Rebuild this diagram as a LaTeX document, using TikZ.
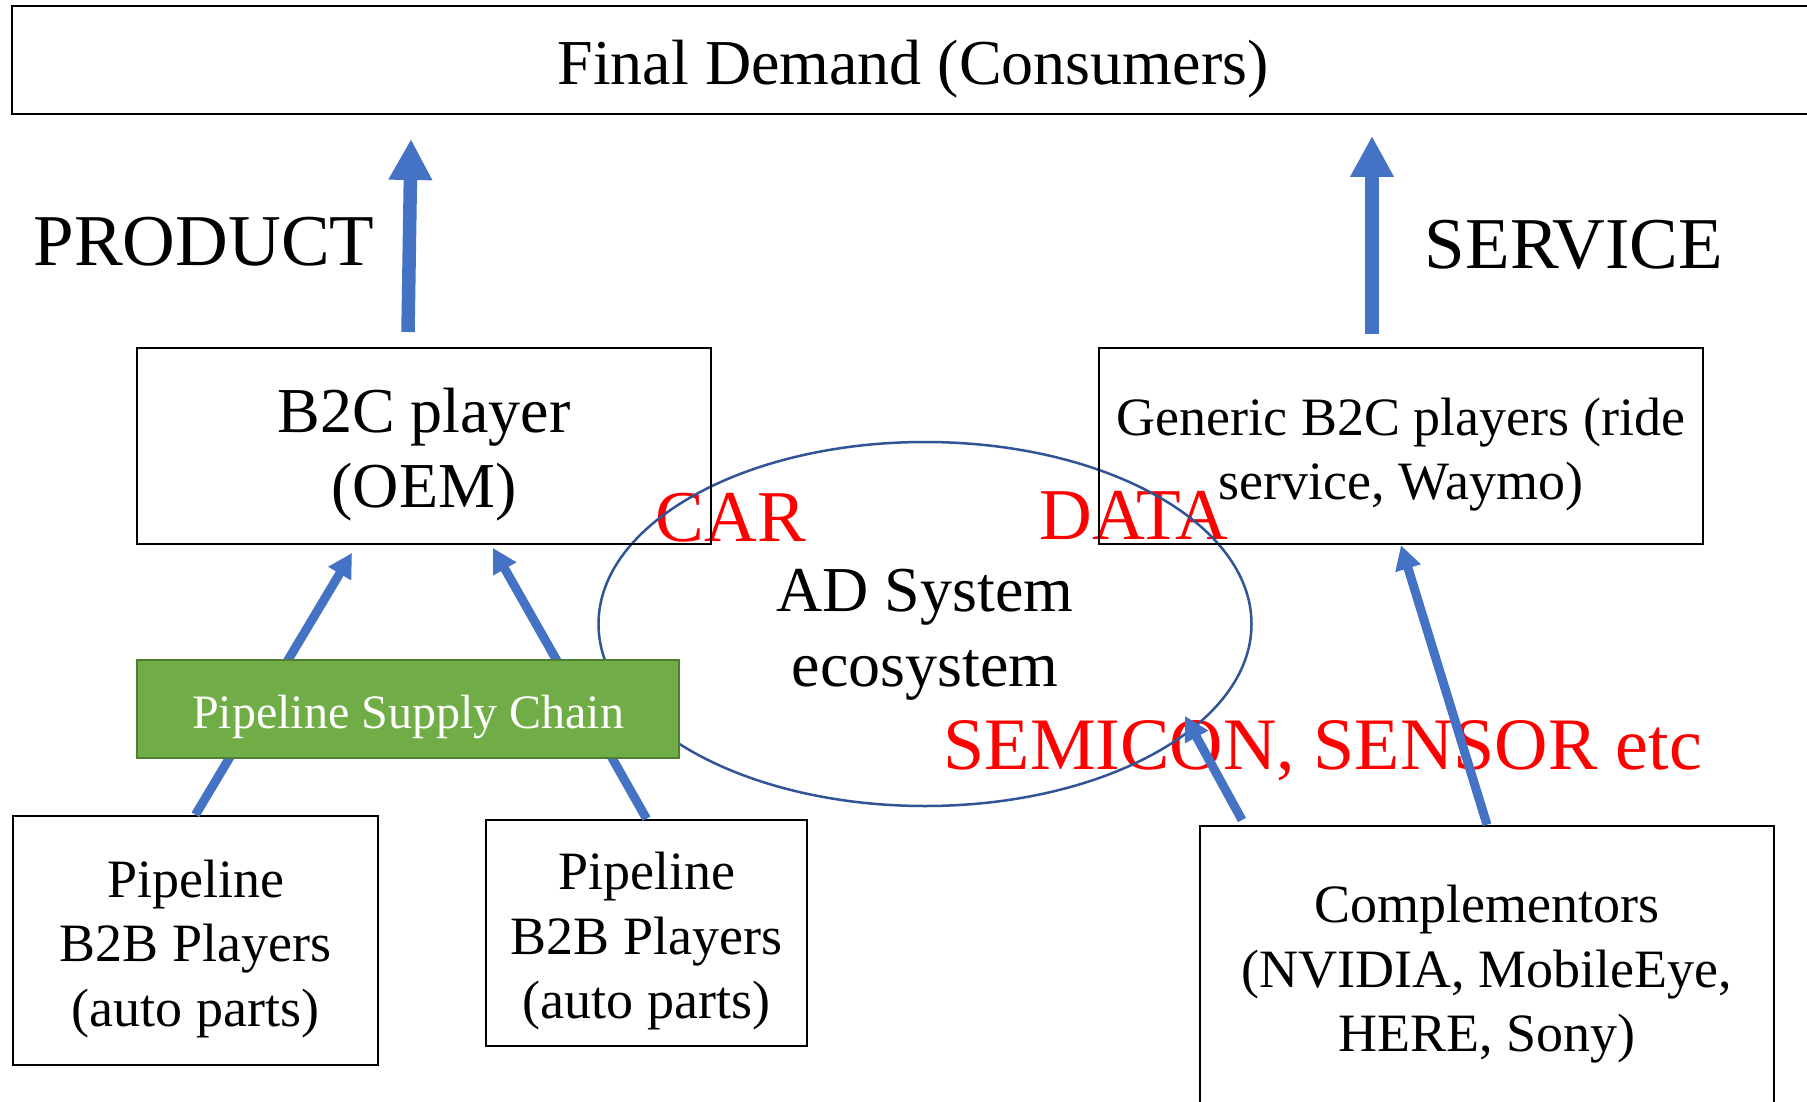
\documentclass[tikz,border=0pt]{standalone}
\usepackage{fontspec}
\setmainfont{Liberation Serif}
\usetikzlibrary{arrows.meta,shapes.geometric}
\definecolor{arrowblue}{HTML}{4472C4}
\definecolor{ringblue}{HTML}{2F5597}
\definecolor{chaingreen}{HTML}{70AD47}
\definecolor{chainedge}{HTML}{507E32}
\definecolor{tagred}{HTML}{FF0000}

\begin{document}
\begin{tikzpicture}[x=1pt,y=-1pt,
  box/.style={draw=black, line width=2.6pt, inner sep=0pt},
  bigtext/.style={inner sep=0pt, align=center, yshift=-9pt, font=\fontsize{64}{75}\selectfont},
  midtext/.style={inner sep=0pt, align=center, yshift=-8.5pt, font=\fontsize{54}{64.5}\selectfont},
  heading/.style={inner sep=0pt, font=\fontsize{73}{80}\selectfont},
  tag/.style={heading, text=tagred},
  flow/.style={draw=arrowblue, line width=13.5pt, -{Triangle[width=41pt,length=41pt]}},
  feed/.style={draw=arrowblue, line width=9pt, -{Triangle[width=25pt,length=24pt]}}]

\useasboundingbox (0,0) rectangle (1807,1102);
\fill[white] (0,0) rectangle (1807,1102);

% side headings and red tags
\node[heading] (product) at (204,242) {PRODUCT};
\node[heading] (service) at (1574,245) {SERVICE};
\node[tag] (car) at (731,518) {CAR};
\node[tag] (data) at (1134,515) {DATA};
\node[tag, font=\fontsize{74}{80}\selectfont] (semi) at (1323,751) {SEMICON, SENSOR etc};

% the ecosystem ring
\node[ellipse, draw=ringblue, line width=2.5pt, inner sep=0pt,
      minimum width=653pt, minimum height=364pt,
      label={[bigtext, yshift=-2pt]center:{AD System\\ecosystem}}]
  (ad) at (925,624) {};

% boxes
\node[box, minimum width=1802pt, minimum height=108pt,
      label={[bigtext]center:{Final Demand (Consumers)}}]
  (demand) at (913,60) {};
\node[box, minimum width=574pt, minimum height=196pt,
      label={[bigtext]center:{B2C player\\(OEM)}}]
  (oem) at (424,446) {};
\node[box, minimum width=604pt, minimum height=196pt,
      label={[midtext]center:{Generic B2C players (ride\\service, Waymo)}}]
  (gen) at (1401,446) {};
\node[box, minimum width=365pt, minimum height=249pt,
      label={[midtext]center:{Pipeline\\B2B Players\\(auto parts)}}]
  (pl1) at (195.5,940.5) {};
\node[box, minimum width=321pt, minimum height=226pt,
      label={[midtext]center:{Pipeline\\B2B Players\\(auto parts)}}]
  (pl2) at (646.5,933) {};
\node[box, minimum width=574pt, minimum height=288pt,
      label={[midtext, yshift=4pt]center:{Complementors\\(NVIDIA, MobileEye,\\HERE, Sony)}}]
  (comp) at (1487,970) {};

% free arrow ends
\coordinate (prodfoot) at (408,332);
\coordinate (prodtip) at (411,139);
\coordinate (servfoot) at (1372,334);
\coordinate (servtip) at (1372,136);
\coordinate (oemleft) at (352,553);
\coordinate (oemright) at (493,548);
\coordinate (compleft) at (1242,820);
\coordinate (ringtip) at (1185,716);

% arrows
\draw[flow] (prodfoot) -- (prodtip);
\draw[flow] (servfoot) -- (servtip);
\draw[feed] (pl1.north) -- (oemleft);
\draw[feed] (pl2.north) -- (oemright);
\draw[feed] (compleft) -- (ringtip);
\draw[feed] (comp.north) -- (gen.south);

% supply chain bar over the arrows
\node[draw=chainedge, fill=chaingreen, line width=2.5pt, inner sep=0pt,
      minimum width=542pt, minimum height=98pt,
      label={[inner sep=0pt, yshift=-8pt, text=white,
              font=\fontsize{48}{56}\selectfont]center:{Pipeline Supply Chain}}]
  (chain) at (408,709) {};
\end{tikzpicture}
\end{document}
